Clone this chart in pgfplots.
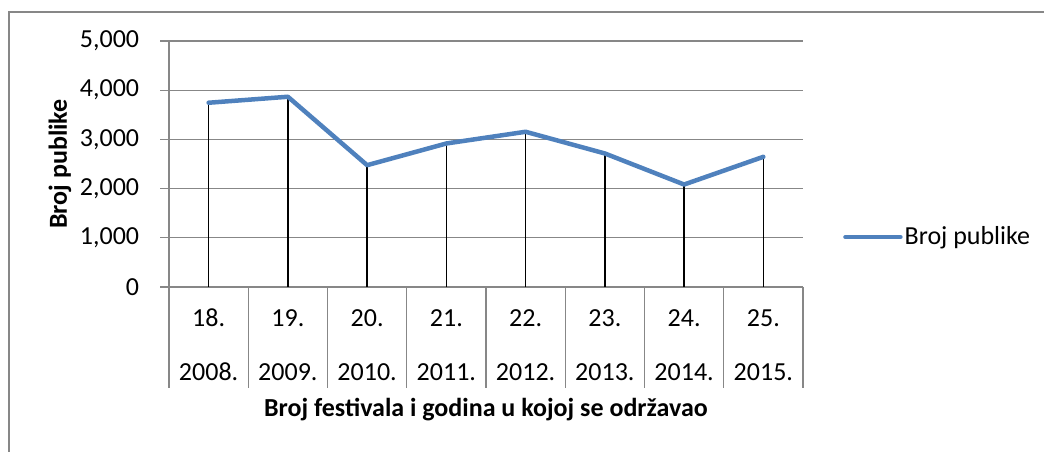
\documentclass[border=0pt]{standalone}
\usepackage{pgfplots}
\pgfplotsset{compat=1.18}
\usepackage{fontspec}
\setmainfont{Carlito}

\definecolor{xlblue}{HTML}{4F81BD}
\definecolor{xlgrid}{HTML}{878787}

\newcommand\chartfont{\fontsize{26}{31}\selectfont}

\begin{document}
\chartfont
\begin{tikzpicture}
  \path[use as bounding box] (0pt,0pt) rectangle (1044pt,452pt);
  % chart area border (runs off right and bottom)
  \draw[xlgrid, line width=1.2pt] (9pt,-5pt) -- (9pt,440pt) -- (1050pt,440pt);

  \begin{axis}[
      at={(169pt,165pt)}, anchor=south west,
      scale only axis, width=634pt, height=246pt,
      xmin=0.5, xmax=8.5, ymin=0, ymax=5000,
      axis x line=bottom, axis y line=left,
      axis line style={-, xlgrid, line width=1.2pt},
      xtick={1,...,8},
      xticklabels={{18.\\[23pt]2008.},{19.\\[23pt]2009.},{20.\\[23pt]2010.},{21.\\[23pt]2011.},
                   {22.\\[23pt]2012.},{23.\\[23pt]2013.},{24.\\[23pt]2014.},{25.\\[23pt]2015.}},
      xticklabel style={align=center, anchor=center, yshift=-49pt},
      x tick style={draw=none},
      ytick={0,1000,2000,3000,4000,5000},
      tick align=outside, major tick length=9pt,
      y tick style={xlgrid, line width=1.2pt},
      yticklabel style={xshift=-12pt},
      ymajorgrids, grid style={xlgrid, line width=1.2pt},
      /pgf/number format/.cd, 1000 sep={,}, assume math mode=true,
      /pgfplots/.cd,
      tick label style={font=\chartfont},
      xlabel={Broj festivala i godina u kojoj se održavao},
      ylabel={Broj publike},
      xlabel style={font=\chartfont\bfseries, at={(axis description cs:0.5,-0.5)}, anchor=center},
      ylabel style={font=\chartfont\bfseries, at={(axis description cs:-0.172,0.5)}, anchor=center},
      legend style={at={(1,0.203)}, anchor=west, xshift=40pt, draw=none, fill=none,
                    font=\chartfont, inner sep=0pt,
                    /tikz/every even column/.append style={column sep=0pt}},
      legend cell align=left,
      legend image code/.code={\draw[#1] (0pt,0pt) -- (55pt,0pt);},
      clip=false,
    ]
    % category separators of the two-level axis
    \pgfplotsinvokeforeach{0.5,1.5,2.5,3.5,4.5,5.5,6.5,7.5,8.5}{
      \draw[xlgrid, line width=1.2pt] (axis cs:#1,0) -- ++(0pt,-101pt);
    }
    % drop lines
    \addplot[ycomb, black, line width=1.3pt, forget plot] coordinates {
      (1,3745) (2,3867) (3,2476) (4,2917) (5,3155) (6,2714) (7,2083) (8,2646)
    };
    \addplot[xlblue, line width=4.5pt, line join=round, line cap=round, mark=none] coordinates {
      (1,3745) (2,3867) (3,2476) (4,2917) (5,3155) (6,2714) (7,2083) (8,2646)
    };
    \addlegendentry{Broj publike}
  \end{axis}
\end{tikzpicture}
\end{document}
